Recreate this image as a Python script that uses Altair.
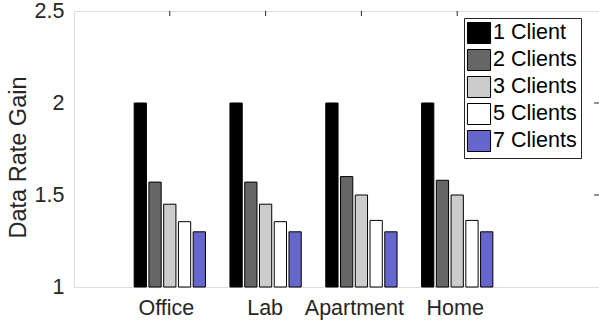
import altair as alt
import pandas as pd

locations = ["Office", "Lab", "Apartment", "Home"]
series = ["1 Client", "2 Clients", "3 Clients", "5 Clients", "7 Clients"]
gain_1 = [2.0, 2.0, 2.0, 2.0]
gain_2 = [1.57, 1.57, 1.60, 1.58]
gain_3 = [1.45, 1.45, 1.50, 1.50]
gain_5 = [1.355, 1.355, 1.362, 1.362]
gain_7 = [1.30, 1.30, 1.30, 1.30]
gains = [gain_1, gain_2, gain_3, gain_5, gain_7]
colors = ["#000000", "#666666", "#cccccc", "#ffffff", "#6666cc"]
y_ticks = [1, 1.5, 2, 2.5]
x_ticks = [1, 2, 3, 4]

W, H = 525, 276
FONT = "Liberation Sans"
FS = 21.5
TFS = 23.5
AX = "#262626"
pitch = 0.154   # bar spacing inside a group (x units)
bw = 0.128      # bar width (x units)

rows = []
for k, s in enumerate(series):
    for g, loc in enumerate(locations):
        c = g + 1 + (k - 2) * pitch
        rows.append(dict(loc=loc, series=s, gain=gains[k][g],
                         x0=c - bw / 2, x1=c + bw / 2, base=1.0))
df = pd.DataFrame(rows)

xs = alt.Scale(domain=[0, 5.48], nice=False, zero=False)
ys = alt.Scale(domain=[1, 2.5], nice=False, zero=False)

label_expr = "[" + ",".join("'%s'" % l for l in locations) + "][datum.value - 1]"

x_axis = alt.Axis(
    values=x_ticks, labelExpr=label_expr, title=None, grid=False,
    domain=False, ticks=False, tickSize=0, labelFontSize=FS,
    labelPadding=10, labelColor=AX, labelFont=FONT,
    labelOffset={"condition": [
        {"test": "datum.value == 1", "value": -4},
        {"test": "datum.value == 2", "value": -1},
        {"test": "datum.value == 3", "value": -7.5},
        {"test": "datum.value == 4", "value": -2.5}], "value": 0})
y_axis = alt.Axis(
    values=y_ticks, format=".1~f", title="Data Rate Gain", grid=False,
    domain=False, ticks=False, tickSize=0, labelFontSize=FS,
    labelPadding=10, labelColor=AX, labelFont=FONT,
    titleFontSize=TFS, titleFontWeight="normal", titleColor=AX,
    titleFont=FONT, titlePadding=4, titleY=146)

bars = alt.Chart(df).mark_rect(stroke="#000000", strokeWidth=1).encode(
    x=alt.X("x0:Q", scale=xs, axis=x_axis),
    x2="x1:Q",
    y=alt.Y("gain:Q", scale=ys, axis=y_axis),
    y2="base:Q",
    color=alt.Color("series:N", scale=alt.Scale(domain=series, range=colors),
                    legend=alt.Legend(
                        title=None, orient="none", legendX=390, legendY=7,
                        symbolType="M-1.1,-1L1.1,-1L1.1,1L-1.1,1Z",
                        symbolSize=441, symbolStrokeColor="#000000",
                        symbolStrokeWidth=1, symbolOpacity=1,
                        labelFontSize=FS, labelFont=FONT, labelColor="#000000",
                        labelExpr="datum.label + '\u00a0\u00a0\u00a0'",
                        labelOffset=3, rowPadding=1, padding=4,
                        strokeColor=AX, fillColor="white")),
)

top_ticks = alt.Chart(pd.DataFrame({"g": x_ticks})).mark_rule(
    color=AX, strokeWidth=1).encode(
    x=alt.X("g:Q", scale=xs, axis=x_axis), y=alt.value(0), y2=alt.value(5))

right_ticks = alt.Chart(pd.DataFrame({"v": y_ticks[1:-1]})).mark_rule(
    color=AX, strokeWidth=1).encode(
    y=alt.Y("v:Q", scale=ys, axis=y_axis), x=alt.value(W - 5), x2=alt.value(W))

chart = alt.layer(top_ticks, right_ticks, bars).properties(
    width=W, height=H,
    autosize=alt.AutoSizeParams(type="none"),
    padding={"left": 74, "top": 11, "right": 0, "bottom": 35},
).configure_view(stroke=AX, strokeWidth=1).configure(font=FONT, background="white")

chart.save("out.html", embed_options={"renderer": "svg", "actions": False})
